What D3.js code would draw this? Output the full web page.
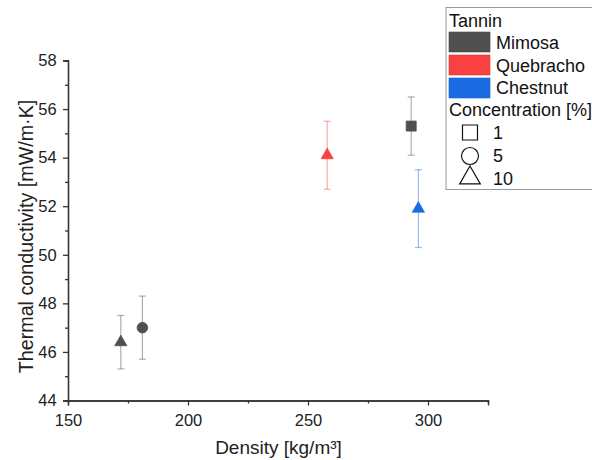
<!DOCTYPE html>
<html><head><meta charset="utf-8">
<script src="https://cdn.jsdelivr.net/npm/d3@7"></script>
<style>body{margin:0;background:#fff;}svg{display:block;font-family:"Liberation Sans",Arial,sans-serif;}</style>
</head><body><svg id="c" width="592" height="460"></svg>
<script>
const tannins = ["Mimosa", "Quebracho", "Chestnut"];
const tanninColors = ["#4f4f4f", "#f94141", "#1b6be3"];
const concentrations = ["1", "5", "10"];
const pointTannin = ["Mimosa", "Mimosa", "Mimosa", "Quebracho", "Chestnut"];
const pointConc = ["10", "5", "1", "10", "10"];
const density = [172, 181, 293, 258, 296];
const conductivity = [46.4, 47.0, 55.3, 54.1, 51.9];
const errLow = [45.3, 45.7, 54.1, 52.7, 50.3];
const errHigh = [47.5, 48.3, 56.5, 55.5, 53.5];
const xTicks = [150, 200, 250, 300];
const yTicks = [44, 46, 48, 50, 52, 54, 56, 58];

const svg = d3.select("#c");
const x = d3.scaleLinear().domain([150, 325]).range([68, 488]);
const y = d3.scaleLinear().domain([44, 58]).range([400.5, 60.5]);
const color = d3.scaleOrdinal().domain(tannins).range(tanninColors);
const shapeMap = d3.scaleOrdinal().domain(concentrations).range([d3.symbolSquare, d3.symbolCircle, d3.symbolTriangle]);
const sizeMap = d3.scaleOrdinal().domain(concentrations).range([100, 88, 64]);
const legendSize = d3.scaleOrdinal().domain(concentrations).range([225, 227, 185]);

// axes
const xAxis = d3.axisBottom(x).tickValues(xTicks).tickSize(5).tickFormat(d3.format("d"));
const xMinor = d3.axisBottom(x).tickValues([175, 225, 275, 325]).tickSize(3).tickFormat("");
const yAxis = d3.axisLeft(y).tickValues(yTicks).tickSize(5).tickFormat(d3.format("d"));
const yMinor = d3.axisLeft(y).tickValues([45, 47, 49, 51, 53, 55, 57]).tickSize(3).tickFormat("");

function style(g) {
  g.select(".domain").attr("stroke", "#333").attr("stroke-width", 1.3);
  g.selectAll(".tick line").attr("stroke", "#333").attr("stroke-width", 1.3);
  g.selectAll(".tick text").attr("fill", "#222").style("font-size", "16.5px").style("font-family", '"Liberation Sans",Arial,sans-serif');
}
svg.append("g").attr("transform", "translate(0,400.5)").call(xMinor).call(style);
svg.append("g").attr("transform", "translate(0,400.5)").call(xAxis).call(style)
  .selectAll(".tick text").attr("y", 25.2).attr("dy", 0);
svg.append("g").attr("transform", "translate(68,0)").call(yMinor).call(style);
svg.append("g").attr("transform", "translate(68,0)").call(yAxis).call(style)
  .selectAll(".tick text").attr("x", -11.3);

svg.append("text").attr("x", 278.5).attr("y", 454).attr("text-anchor", "middle")
  .style("font-size", "19px").attr("fill", "#222").text("Density [kg/m³]");
svg.append("text").attr("transform", "translate(32.5,236.5) rotate(-90)").attr("text-anchor", "middle")
  .style("font-size", "19.7px").attr("fill", "#222").text("Thermal conductivity [mW/m·K]");

// error bars and points
const idx = d3.range(density.length);
const eb = svg.append("g");
idx.forEach(i => {
  const c = color(pointTannin[i]);
  const g = eb.append("g").attr("stroke", c).attr("stroke-opacity", 0.45).attr("stroke-width", 1.2);
  const cx = x(density[i]);
  g.append("line").attr("x1", cx).attr("x2", cx).attr("y1", y(errLow[i])).attr("y2", y(errHigh[i]));
  g.append("line").attr("x1", cx - 3.5).attr("x2", cx + 3.5).attr("y1", y(errLow[i])).attr("y2", y(errLow[i]));
  g.append("line").attr("x1", cx - 3.5).attr("x2", cx + 3.5).attr("y1", y(errHigh[i])).attr("y2", y(errHigh[i]));
});
svg.append("g").selectAll("path").data(idx).join("path")
  .attr("transform", i => `translate(${x(density[i])},${y(conductivity[i])})`)
  .attr("d", i => d3.symbol().type(shapeMap(pointConc[i])).size(sizeMap(pointConc[i]))())
  .attr("fill", i => color(pointTannin[i]))
  .attr("stroke", i => color(pointTannin[i])).attr("stroke-width", 0.8);

// legend
const lg = svg.append("g");
lg.append("rect").attr("x", 446).attr("y", 7.5).attr("width", 160).attr("height", 182)
  .attr("fill", "#fff").attr("stroke", "#999").attr("stroke-width", 1);
lg.append("text").attr("x", 449).attr("y", 27).style("font-size", "18px").attr("fill", "#111").text("Tannin");
tannins.forEach((t, i) => {
  lg.append("rect").attr("x", 449).attr("y", 32 + i * 23).attr("width", 41).attr("height", 20)
    .attr("fill", color(t)).attr("stroke", d3.color(color(t)).darker(0.3)).attr("stroke-width", 0.6);
  lg.append("text").attr("x", 496).attr("y", 49 + i * 22.7).style("font-size", "18px").attr("fill", "#111").text(t);
});
lg.append("text").attr("x", 449).attr("y", 116).style("font-size", "18px").attr("fill", "#111").text("Concentration [%]");
const legCy = d3.scaleOrdinal().domain(concentrations).range([132.5, 156, 178]);
concentrations.forEach((c, i) => {
  lg.append("path").attr("transform", `translate(470,${legCy(c)})`)
    .attr("d", d3.symbol().type(shapeMap(c)).size(legendSize(c))())
    .attr("fill", "none").attr("stroke", "#111").attr("stroke-width", 1.2);
  lg.append("text").attr("x", 493).attr("y", 139 + i * 23).style("font-size", "18px").attr("fill", "#111").text(c);
});
</script></body></html>
